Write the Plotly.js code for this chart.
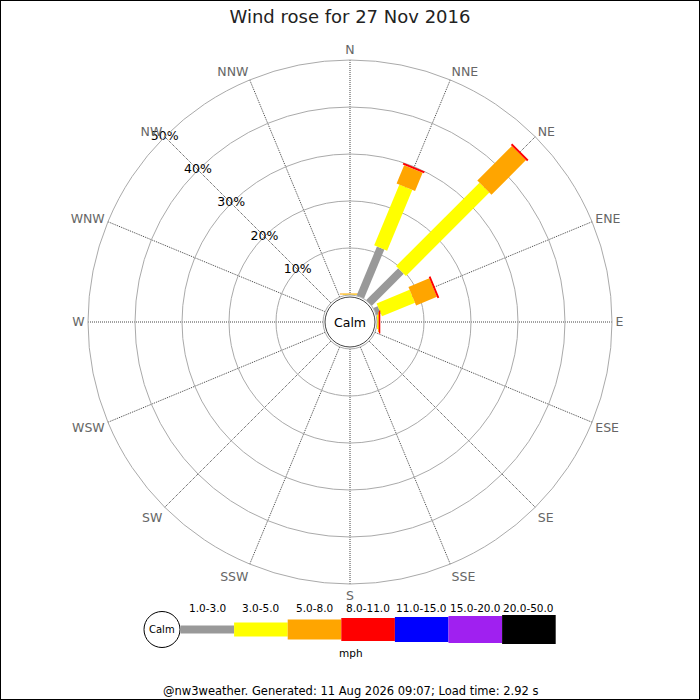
<!DOCTYPE html>
<html><head><meta charset="utf-8">
<script src="https://cdn.plot.ly/plotly-3.0.1.min.js"></script>
<style>html,body{margin:0;padding:0;background:#fff}#chart{width:700px;height:700px}</style>
</head><body><div id="chart"></div>
<script>
// ---------- data ----------
const directions = ['N','NNE','NE','ENE','E','ESE','SE','SSE','S','SSW','SW','WSW','W','WNW','NW','NNW'];
const directionAngles = [0,22.5,45,67.5,90,112.5,135,157.5,180,202.5,225,247.5,270,292.5,315,337.5];
const speedBins = ['1.0-3.0','3.0-5.0','5.0-8.0','8.0-11.0','11.0-15.0','15.0-20.0','20.0-50.0'];
const speedUnit = 'mph';
const binColors = ['#999999','#ffff00','#ffa500','#ff0000','#0000ff','#a020f0','#000000'];
// percentage of time per direction, one array per speed bin
const pct_1_3   = [0, 11.3, 9.6, 1.0, 0,   0,0,0,0,0,0,0,0,0,0,0];
const pct_3_5   = [0.1, 14.0, 25.1, 7.6, 0.2, 0,0,0,0,0,0,0,0,0,0,0];
const pct_5_8   = [0.2, 4.2, 10.4, 4.8, 0.2, 0,0,0,0,0,0,0,0,0,0,0];
const pct_8_11  = [0, 0.4, 0.4, 0.4, 0.3, 0,0,0,0,0,0,0,0,0,0,0];
const pct_11_15 = [0,0,0,0,0,0,0,0,0,0,0,0,0,0,0,0];
const pct_15_20 = [0,0,0,0,0,0,0,0,0,0,0,0,0,0,0,0];
const pct_20_50 = [0,0,0,0,0,0,0,0,0,0,0,0,0,0,0,0];
const radialTicks = [10,20,30,40,50];
const titleText = 'Wind rose for 27 Nov 2016';
const footerText = '@nw3weather. Generated: 11 Aug 2026 09:07; Load time: 2.92 s';

// ---------- styling ----------
const binSeries = [pct_1_3,pct_3_5,pct_5_8,pct_8_11,pct_11_15,pct_15_20,pct_20_50];
const barWidths = [8,14,20,23,25,27,29];
const W = 700, H = 700;
const cx = 350, cy = 322, R = 262, holePx = 27;

const traces = [];
directions.forEach((d, i) => {
  let cum = 0;
  binSeries.forEach((series, b) => {
    const v = series[i];
    if (v > 0) {
      traces.push({
        type: 'scatterpolar', mode: 'lines',
        r: [cum, cum + v], theta: [directionAngles[i], directionAngles[i]],
        line: {color: binColors[b], width: barWidths[b]},
        hoverinfo: 'skip', showlegend: false, cliponaxis: false
      });
    }
    cum += v;
  });
});
traces.push({
  type: 'scatterpolar', mode: 'text',
  r: radialTicks, theta: radialTicks.map(() => 315),
  text: radialTicks.map(t => t + '%'),
  textfont: {family: 'DejaVu Sans', size: 12.5, color: '#000'},
  textposition: 'middle center', hoverinfo: 'skip', showlegend: false, cliponaxis: false
});

const shapes = [
  {type:'rect', xref:'paper', yref:'paper', x0:0, x1:1, y0:0, y1:1, line:{color:'#000', width:2}},
  {type:'circle', xref:'paper', yref:'paper', layer:'above',
   x0:(cx-25)/W, x1:(cx+25)/W, y0:(H-cy-25)/H, y1:(H-cy+25)/H,
   line:{color:'#444', width:1}, fillcolor:'#fff'}
];
const annotations = [
  {text:'Calm', xref:'paper', yref:'paper', x:cx/W, y:(H-cy)/H, showarrow:false,
   font:{family:'DejaVu Sans', size:12.5, color:'#000'}, xanchor:'center', yanchor:'middle'},
  {text: footerText, xref:'paper', yref:'paper', x:0.5, y:(H-691)/H, showarrow:false,
   font:{family:'DejaVu Sans', size:11.5, color:'#000'}, xanchor:'center', yanchor:'middle'},
  {text: speedUnit, xref:'paper', yref:'paper', x:351/W, y:(H-653)/H, showarrow:false,
   font:{family:'DejaVu Sans', size:10.5, color:'#000'}, xanchor:'center', yanchor:'middle'}
];

// legend key (built from the bin arrays)
const legCy = 629.5, legStart = 180.5, legStep = 53.6;
shapes.push({type:'circle', xref:'paper', yref:'paper',
  x0:(162-18)/W, x1:(162+18)/W, y0:(H-legCy-18)/H, y1:(H-legCy+18)/H,
  line:{color:'#000', width:1}, fillcolor:'#fff'});
annotations.push({text:'Calm', xref:'paper', yref:'paper', x:162/W, y:(H-legCy)/H, showarrow:false,
  font:{family:'DejaVu Sans', size:10, color:'#000'}, xanchor:'center', yanchor:'middle'});
speedBins.forEach((lab, b) => {
  const x0 = legStart + b*legStep, x1 = x0 + legStep, h = barWidths[b];
  shapes.push({type:'rect', xref:'paper', yref:'paper', x0:x0/W, x1:x1/W,
    y0:(H-legCy-h/2)/H, y1:(H-legCy+h/2)/H, line:{width:0}, fillcolor:binColors[b]});
  annotations.push({text:lab, xref:'paper', yref:'paper', x:(x0+x1)/2/W, y:(H-607.5)/H, showarrow:false,
    font:{family:'DejaVu Sans', size:10.5, color:'#000'}, xanchor:'center', yanchor:'middle'});
});

const layout = {
  width: W, height: H,
  margin: {l:0, r:0, t:0, b:0},
  paper_bgcolor: '#fff',
  font: {family: 'DejaVu Sans'},
  title: {text: titleText, x: 0.5, xanchor:'center', y: (H-17)/H, yanchor:'middle',
          font: {family:'DejaVu Sans', size: 18, color:'#222'}},
  showlegend: false,
  polar: {
    domain: {x:[(cx-R)/W, (cx+R)/W], y:[(H-cy-R)/H, (H-cy+R)/H]},
    hole: holePx/R,
    bgcolor: '#fff',
    radialaxis: {range:[0,50], tickmode:'array', tickvals: radialTicks, showticklabels:false,
                 ticks:'', showline:false, gridcolor:'#aaaaaa', gridwidth:1},
    angularaxis: {rotation:90, direction:'clockwise', tickmode:'array', tickvals: directionAngles,
                  ticktext: directions, ticks:'outside', ticklen:0.5, tickcolor:'rgba(0,0,0,0)',
                  showline:true, linecolor:'#aaaaaa', linewidth:1,
                  gridcolor:'#444444', griddash:'1px,1px', gridwidth:1,
                  tickfont:{family:'DejaVu Sans', size:12.5, color:'#666'}}
  },
  shapes: shapes,
  annotations: annotations
};

Plotly.newPlot('chart', traces, layout, {staticPlot: true, displayModeBar: false});
</script>
</body></html>
